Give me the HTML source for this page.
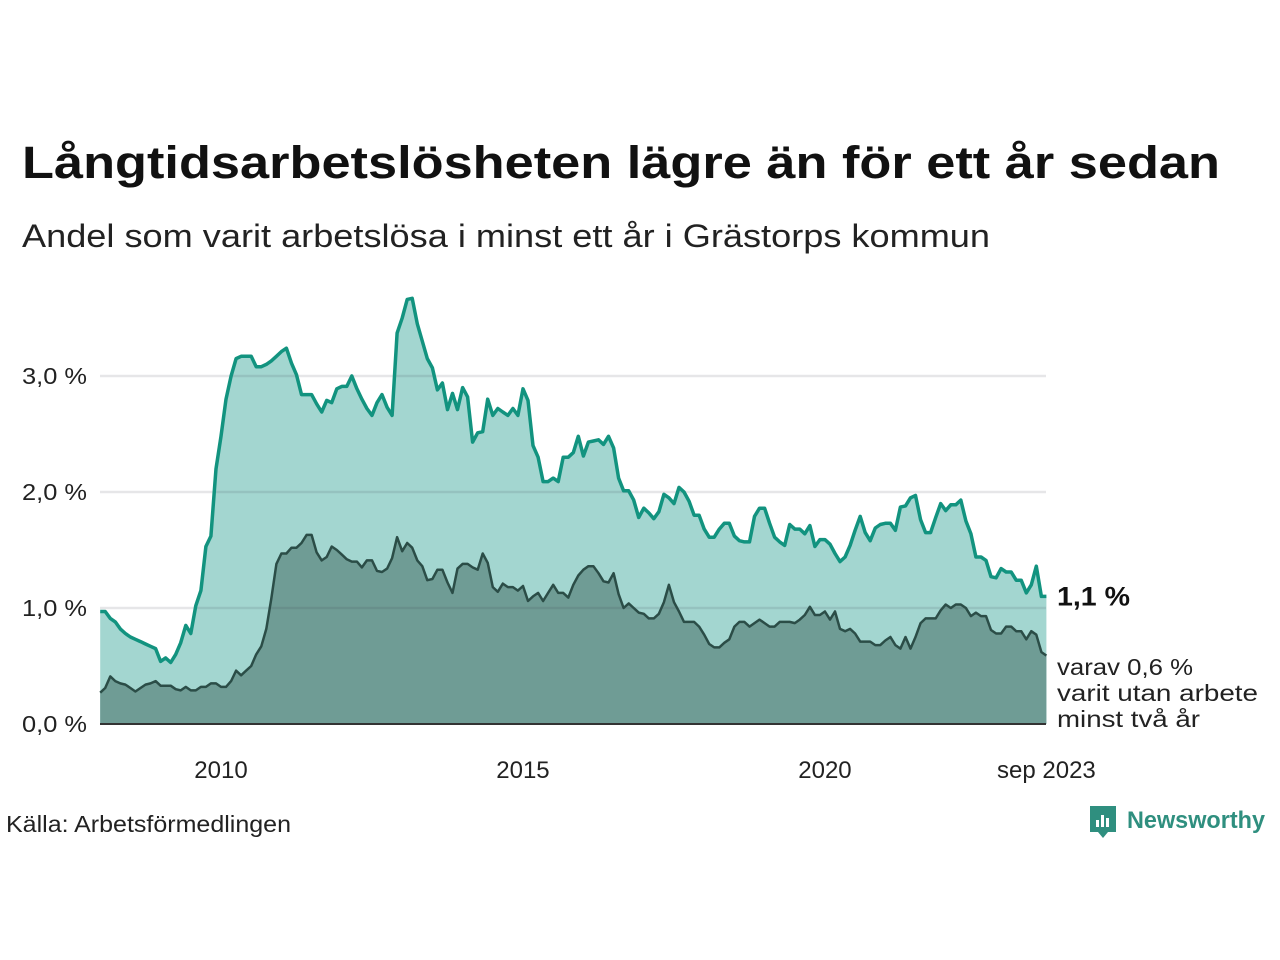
<!DOCTYPE html>
<html><head><meta charset="utf-8"><style>
body{margin:0;background:#fff;}
svg{display:block;font-family:"Liberation Sans","DejaVu Sans",sans-serif;}
</style></head><body>
<svg id="c" width="1280" height="960" viewBox="0 0 1280 960">
<text x="22" y="178" font-size="45" font-weight="bold" fill="#111" textLength="1198" lengthAdjust="spacingAndGlyphs">Långtidsarbetslösheten lägre än för ett år sedan</text>
<text x="22" y="247" font-size="32" fill="#222" textLength="968" lengthAdjust="spacingAndGlyphs">Andel som varit arbetslösa i minst ett år i Grästorps kommun</text>
<g id="plot"></g>
<text x="6" y="832" font-size="23" fill="#222" textLength="285" lengthAdjust="spacingAndGlyphs">Källa: Arbetsförmedlingen</text>
<g>
<path d="M1090 806h26v26h-8l-5 6-5-6h-8z" fill="#2f8f7f"/>
<rect x="1096" y="820" width="3" height="7" fill="#fff"/><rect x="1101" y="815" width="3" height="12" fill="#fff"/><rect x="1106" y="818" width="3" height="9" fill="#fff"/>
<text x="1127" y="828" font-size="24" font-weight="bold" fill="#2f8f7f" textLength="138" lengthAdjust="spacingAndGlyphs">Newsworthy</text>
</g>
</svg>
<script>
const months = Array.from({length:189},(_,i)=>{const y=2008+Math.floor(i/12),m=i%12+1;return y+'-'+(m<10?'0':'')+m;});
const total = [0.97,0.97,0.91,0.88,0.82,0.78,0.75,0.73,0.71,0.69,0.67,0.65,0.54,0.57,0.53,0.60,0.70,0.85,0.78,1.02,1.15,1.53,1.62,2.20,2.48,2.80,3.00,3.15,3.17,3.17,3.17,3.08,3.08,3.10,3.13,3.17,3.21,3.24,3.11,3.01,2.84,2.84,2.84,2.76,2.69,2.79,2.77,2.89,2.91,2.91,3.00,2.89,2.80,2.72,2.66,2.77,2.84,2.73,2.66,3.37,3.50,3.66,3.67,3.45,3.30,3.15,3.07,2.88,2.94,2.71,2.85,2.71,2.90,2.82,2.43,2.51,2.52,2.80,2.66,2.72,2.69,2.66,2.72,2.66,2.89,2.79,2.40,2.30,2.09,2.09,2.12,2.09,2.30,2.30,2.34,2.48,2.31,2.43,2.44,2.45,2.41,2.48,2.38,2.12,2.01,2.01,1.93,1.78,1.86,1.82,1.77,1.83,1.98,1.95,1.90,2.04,2.00,1.92,1.80,1.80,1.68,1.61,1.61,1.68,1.73,1.73,1.62,1.58,1.57,1.57,1.79,1.86,1.86,1.73,1.61,1.57,1.54,1.72,1.68,1.68,1.64,1.71,1.53,1.59,1.59,1.55,1.47,1.40,1.44,1.54,1.67,1.79,1.65,1.58,1.69,1.72,1.73,1.73,1.67,1.87,1.88,1.95,1.97,1.76,1.65,1.65,1.78,1.90,1.84,1.89,1.89,1.93,1.75,1.64,1.44,1.44,1.41,1.27,1.26,1.34,1.31,1.31,1.24,1.24,1.13,1.20,1.36,1.10,1.10];
const twoYear = [0.27,0.31,0.41,0.37,0.35,0.34,0.31,0.28,0.31,0.34,0.35,0.37,0.33,0.33,0.33,0.30,0.29,0.32,0.29,0.29,0.32,0.32,0.35,0.35,0.32,0.32,0.37,0.46,0.42,0.46,0.50,0.60,0.67,0.82,1.08,1.38,1.47,1.47,1.52,1.52,1.56,1.63,1.63,1.48,1.41,1.44,1.53,1.50,1.46,1.42,1.40,1.40,1.35,1.41,1.41,1.32,1.31,1.34,1.43,1.61,1.49,1.56,1.52,1.41,1.36,1.24,1.25,1.33,1.33,1.22,1.13,1.34,1.38,1.38,1.35,1.33,1.47,1.39,1.18,1.14,1.21,1.18,1.18,1.15,1.19,1.06,1.10,1.13,1.06,1.13,1.20,1.13,1.13,1.09,1.20,1.28,1.33,1.36,1.36,1.30,1.23,1.22,1.30,1.12,1.00,1.04,1.00,0.96,0.95,0.91,0.91,0.95,1.05,1.20,1.05,0.97,0.88,0.88,0.88,0.84,0.77,0.69,0.66,0.66,0.70,0.73,0.84,0.88,0.88,0.84,0.87,0.90,0.87,0.84,0.84,0.88,0.88,0.88,0.87,0.90,0.94,1.01,0.94,0.94,0.97,0.90,0.97,0.82,0.80,0.82,0.78,0.71,0.71,0.71,0.68,0.68,0.72,0.75,0.68,0.65,0.75,0.65,0.75,0.87,0.91,0.91,0.91,0.98,1.03,1.00,1.03,1.03,1.00,0.93,0.96,0.93,0.93,0.81,0.78,0.78,0.84,0.84,0.80,0.80,0.73,0.80,0.77,0.62,0.59];
const yTicks = [0,1,2,3];
const yTickLabels = ['0,0 %','1,0 %','2,0 %','3,0 %'];
const xTickMonths = ['2010-01','2015-01','2020-01','2023-09'];
const xTickLabels = ['2010','2015','2020','sep 2023'];

const NS='http://www.w3.org/2000/svg';
const X0=100.2, X1=1046.4, Y0=724, PER=116;
const x = i => X0 + i*(X1-X0)/(months.length-1);
const y = v => Y0 - v*PER;
const g = document.getElementById('plot');
function mk(t,a){const e=document.createElementNS(NS,t);for(const k in a)e.setAttribute(k,a[k]);g.appendChild(e);return e;}
function linePts(arr){return arr.map((v,i)=>x(i).toFixed(1)+','+y(v).toFixed(1)).join(' ');}
function areaPts(arr){return x(0)+','+Y0+' '+linePts(arr)+' '+x(arr.length-1)+','+Y0;}

const a1=mk('polygon',{points:areaPts(total),fill:'#a3d6d0'});


const a2=mk('polygon',{points:areaPts(twoYear),fill:'#6f9c95'});


yTicks.forEach((t,k)=>{
  if(t>0){const gl=mk('line',{x1:100,x2:1046,y1:y(t),y2:y(t),stroke:'rgba(60,60,80,0.13)','stroke-width':2.5});
  
  }
  const tl=mk('text',{x:22,y:y(t)+8,'font-size':23,fill:'#222',textLength:65,lengthAdjust:'spacingAndGlyphs'});
  tl.textContent=yTickLabels[k];
  
  
});
const l1=mk('polyline',{points:linePts(total),fill:'none',stroke:'#12937f','stroke-width':3.5,'stroke-linejoin':'round'});


const l2=mk('polyline',{points:linePts(twoYear),fill:'none',stroke:'#2b4d47','stroke-width':2.5,'stroke-linejoin':'round'});


const ax=mk('line',{x1:100,x2:1046,y1:Y0,y2:Y0,stroke:'#333','stroke-width':2});


xTickMonths.forEach((m,k)=>{
  const i=months.indexOf(m);
  const t=mk('text',{x:x(i),y:778,'font-size':24,fill:'#222','text-anchor':'middle'});
  t.textContent=xTickLabels[k];
  
  
});
const last=months.length-1;
const e1=mk('text',{x:1057,y:y(total[last])+9,'font-size':27,'font-weight':'bold',fill:'#111',textLength:73,lengthAdjust:'spacingAndGlyphs'});
e1.textContent=total[last].toFixed(1).replace('.',',')+' %';


const lines=['varav '+twoYear[last].toFixed(1).replace('.',',')+' %','varit utan arbete','minst två år'];
const lineW=[136,201,143];
lines.forEach((s,k)=>{
  const t=mk('text',{x:1057,y:675+k*26,'font-size':23,fill:'#222',textLength:lineW[k],lengthAdjust:'spacingAndGlyphs'});
  t.textContent=s;
  
  
});
</script>
</body></html>
